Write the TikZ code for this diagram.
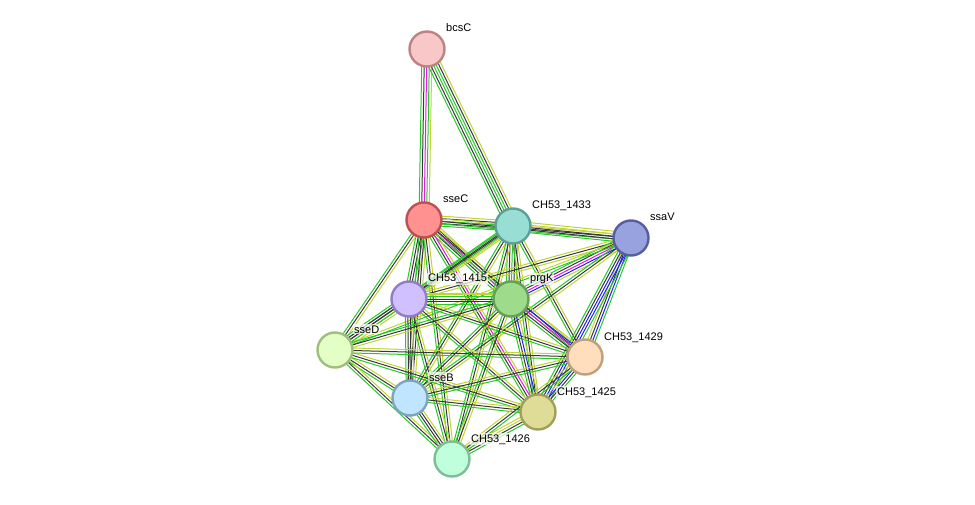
\documentclass[tikz,border=0pt]{standalone}
\usepackage{fontspec}
\setsansfont{Liberation Sans}
\usepackage{tikz}
\usetikzlibrary{calc, backgrounds}

% evidence channel colours
\definecolor{sg}{RGB}{40,200,40}
\definecolor{sk}{RGB}{55,55,55}
\definecolor{sy}{RGB}{192,212,50}
\definecolor{sm}{RGB}{235,20,235}
\definecolor{sb}{RGB}{30,30,250}

% one bundle of parallel evidence lines between two proteins
\newcommand{\evlink}[3]{%
  \foreach \c [count=\k] in {#3} {\xdef\nev{\k}}%
  \foreach \c [count=\k] in {#3} {%
    \pgfmathsetmacro\off{(\k-(\nev+1)/2)*2.5}%
    \draw[ev, \c] ($(#1)!\off pt!90:(#2)$) -- ($(#2)!\off pt!-90:(#1)$);
  }%
}

\begin{document}
\begin{tikzpicture}[
    x=1pt, y=-1pt,
    font=\sffamily\fontsize{11}{13}\selectfont,
    prot/.style={circle, minimum size=35pt, inner sep=0pt, line width=2.4pt},
    lbl/.style={anchor=base west, inner sep=1pt, fill=white, fill opacity=0.7, text opacity=1},
    ev/.style={line width=1pt},
]
    \useasboundingbox (0,0) rectangle (975,505);

    %==================== PROTEINS ====================
    \node[prot, fill={rgb,255:red,248;green,200;blue,200}, draw={rgb,255:red,190;green,130;blue,130}] (bcsC) at (427,49) {};
    \node[prot, fill={rgb,255:red,255;green,145;blue,145}, draw={rgb,255:red,190;green,80;blue,80}] (sseC) at (424,220) {};
    \node[prot, fill={rgb,255:red,152;green,222;blue,212}, draw={rgb,255:red,90;green,160;blue,150}] (n1433) at (513,226) {};
    \node[prot, fill={rgb,255:red,152;green,162;blue,222}, draw={rgb,255:red,85;green,95;blue,160}] (ssaV) at (631,238) {};
    \node[prot, fill={rgb,255:red,208;green,192;blue,255}, draw={rgb,255:red,145;green,125;blue,195}] (n1415) at (409,299) {};
    \node[prot, fill={rgb,255:red,158;green,220;blue,140}, draw={rgb,255:red,100;green,160;blue,90}] (prgK) at (511,299) {};
    \node[prot, fill={rgb,255:red,228;green,255;blue,198}, draw={rgb,255:red,160;green,190;blue,125}] (sseD) at (335,350) {};
    \node[prot, fill={rgb,255:red,255;green,222;blue,190}, draw={rgb,255:red,190;green,160;blue,125}] (n1429) at (585,357) {};
    \node[prot, fill={rgb,255:red,192;green,230;blue,255}, draw={rgb,255:red,125;green,165;blue,190}] (sseB) at (410,398) {};
    \node[prot, fill={rgb,255:red,222;green,220;blue,150}, draw={rgb,255:red,160;green,160;blue,90}] (n1425) at (538,412) {};
    \node[prot, fill={rgb,255:red,192;green,255;blue,220}, draw={rgb,255:red,125;green,190;blue,150}] (n1426) at (452,459) {};

    %==================== LABELS ====================
    \node[lbl] (bcsC-l)  at ([xshift=18pt,yshift=17pt]bcsC.center)  {bcsC};
    \node[lbl] (sseC-l)  at ([xshift=18pt,yshift=17pt]sseC.center)  {sseC};
    \node[lbl] (n1433-l) at ([xshift=18pt,yshift=17pt]n1433.center) {CH53\_1433};
    \node[lbl] (ssaV-l)  at ([xshift=18pt,yshift=17pt]ssaV.center)  {ssaV};
    \node[lbl] (n1415-l) at ([xshift=18pt,yshift=17pt]n1415.center) {CH53\_1415};
    \node[lbl] (prgK-l)  at ([xshift=18pt,yshift=17pt]prgK.center)  {prgK};
    \node[lbl] (sseD-l)  at ([xshift=18pt,yshift=17pt]sseD.center)  {sseD};
    \node[lbl] (n1429-l) at ([xshift=18pt,yshift=17pt]n1429.center) {CH53\_1429};
    \node[lbl] (sseB-l)  at ([xshift=18pt,yshift=17pt]sseB.center)  {sseB};
    \node[lbl] (n1425-l) at ([xshift=18pt,yshift=17pt]n1425.center) {CH53\_1425};
    \node[lbl] (n1426-l) at ([xshift=18pt,yshift=17pt]n1426.center) {CH53\_1426};

    %==================== EVIDENCE LINKS ====================
    \begin{scope}[on background layer]
        \evlink{bcsC}{sseC}{sg,sk,sm,sg,sy}
        \evlink{bcsC}{n1433}{sg,sk,sg,sg,sk,sy}
        \evlink{sseC}{n1433}{sg,sk,sg,sk,sy}
        \evlink{sseC}{ssaV}{sg,sk,sy}
        \evlink{n1433}{ssaV}{sg,sk,sk,sy,sy}
        \evlink{sseC}{n1415}{sg,sk,sk,sg,sy}
        \evlink{sseC}{prgK}{sg,sk,sm,sk,sy}
        \evlink{sseC}{sseD}{sg,sk,sy}
        \evlink{sseC}{sseB}{sg,sk,sk,sy}
        \evlink{sseC}{n1426}{sg,sk,sy}
        \evlink{sseC}{n1425}{sg,sk,sm,sy}
        \evlink{sseC}{n1429}{sg,sk,sy}
        \evlink{n1433}{n1415}{sg,sk,sg,sy}
        \evlink{n1433}{prgK}{sg,sk,sg,sk,sy}
        \evlink{n1433}{sseD}{sg,sk,sy}
        \evlink{n1433}{sseB}{sg,sk,sy}
        \evlink{n1433}{n1426}{sg,sk,sy}
        \evlink{n1433}{n1425}{sg,sk,sy}
        \evlink{n1433}{n1429}{sg,sk,sy}
        \evlink{ssaV}{n1415}{sy,sk,sy}
        \evlink{ssaV}{prgK}{sg,sk,sm,sb,sy}
        \evlink{ssaV}{sseD}{sy,sg}
        \evlink{ssaV}{sseB}{sg,sk,sy}
        \evlink{ssaV}{n1429}{sy,sk,sb,sg}
        \evlink{ssaV}{n1425}{sg,sk,sb,sb,sg}
        \evlink{n1415}{prgK}{sg,sk,sk,sg,sy}
        \evlink{n1415}{sseD}{sg,sk,sk,sg,sy}
        \evlink{n1415}{sseB}{sg,sk,sk,sy}
        \evlink{n1415}{n1426}{sg,sk,sy}
        \evlink{n1415}{n1425}{sg,sk,sy}
        \evlink{n1415}{n1429}{sg,sk,sy}
        \evlink{prgK}{sseD}{sg,sk,sy}
        \evlink{prgK}{sseB}{sg,sk,sy}
        \evlink{prgK}{n1426}{sg,sk,sy}
        \evlink{prgK}{n1425}{sg,sk,sb,sy}
        \evlink{prgK}{n1429}{sg,sk,sm,sb,sy}
        \evlink{sseD}{sseB}{sg,sk,sy}
        \evlink{sseD}{n1426}{sg,sk,sy}
        \evlink{sseD}{n1425}{sg,sk,sy}
        \evlink{sseD}{n1429}{sg,sk,sy}
        \evlink{sseB}{n1426}{sg,sk,sk,sy}
        \evlink{sseB}{n1425}{sg,sk,sy}
        \evlink{sseB}{n1429}{sg,sk,sy}
        \evlink{n1426}{n1425}{sg,sk,sy,sy}
        \evlink{n1425}{n1429}{sg,sk,sb,sy}
        \evlink{n1426}{n1429}{sg,sk,sy}
    \end{scope}

\end{tikzpicture}
\end{document}
